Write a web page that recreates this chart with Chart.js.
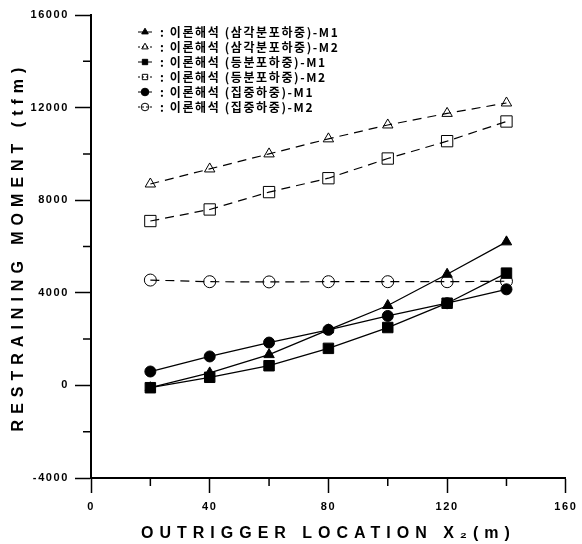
<!DOCTYPE html>
<html><head><meta charset="utf-8">
<script src="https://cdn.jsdelivr.net/npm/chart.js@4/dist/chart.umd.min.js"></script>
<style>html,body{margin:0;padding:0;background:#fff}#wrap{width:582px;height:544px;position:relative}</style>
</head><body><div id="wrap"><canvas id="c"></canvas></div>
<script>
// ---- data ----
const xLocations = [20, 40, 60, 80, 100, 120, 140];
const triangleM1 = [-100, 540, 1330, 2400, 3450, 4800, 6200];
const triangleM2 = [8700, 9350, 10000, 10650, 11250, 11750, 12200];
const uniformM1  = [-100, 350, 850, 1600, 2500, 3550, 4850];
const uniformM2  = [7100, 7600, 8350, 8950, 9800, 10550, 11400];
const pointM1    = [600, 1250, 1850, 2400, 3000, 3550, 4150];
const pointM2    = [4550, 4480, 4470, 4480, 4480, 4480, 4500];
const seriesLabels = [
  '이론해석 (삼각분포하중)-M1',
  '이론해석 (삼각분포하중)-M2',
  '이론해석 (등분포하중)-M1',
  '이론해석 (등분포하중)-M2',
  '이론해석 (집중하중)-M1',
  '이론해석 (집중하중)-M2'
];
const xTitle = 'OUTRIGGER LOCATION X\u2082(m)';
const yTitle = 'RESTRAINING MOMENT (tfm)';

const AXIS_FONT = "'Liberation Sans', Arial, Helvetica, sans-serif";
const LEGEND_FONT = "'Noto Sans CJK KR', 'Noto Sans', sans-serif";

function pts(arr) { return xLocations.map((x, i) => ({x: x, y: arr[i]})); }
function solid(label, arr, style, r) {
  return {label, data: pts(arr), borderColor: '#000', borderWidth: 1.3, pointStyle: style,
    pointRadius: r, pointBackgroundColor: '#000', pointBorderColor: '#000', pointBorderWidth: 1,
    tension: 0, fill: false, _m2: false};
}
function dashed(label, arr, style, r) {
  return {label, data: pts(arr), borderColor: '#000', borderWidth: 1.2, borderDash: [9, 6], pointStyle: style,
    pointRadius: r, pointBackgroundColor: 'rgba(0,0,0,0)', pointBorderColor: '#000', pointBorderWidth: 1,
    tension: 0, fill: false, _m2: true};
}

function spaced(fn, spacing) {
  return function () {
    const ctx = this.ctx; const prev = ctx.letterSpacing;
    ctx.letterSpacing = spacing;
    try { return fn.apply(this, arguments); } finally { ctx.letterSpacing = prev; }
  };
}
const spacingPlugin = {
  id: 'spacing',
  beforeDraw(chart) {
    for (const s of Object.values(chart.scales)) {
      if (!s.__sp) {
        s.drawLabels = spaced(s.drawLabels, '1.6px');
        s.drawTitle = spaced(s.drawTitle, '6px');
        s.__sp = true;
      }
    }
  }
};

const minorTicks = {
  id: 'minorTicks',
  afterDraw(chart) {
    const ctx = chart.ctx, y = chart.scales.y, x = chart.scales.x;
    ctx.save(); ctx.strokeStyle = '#000'; ctx.lineWidth = 1.5; ctx.beginPath();
    y.ticks.forEach(t => { if (t.value % 4000 !== 0) { const p = y.getPixelForValue(t.value); ctx.moveTo(y.right - 8, p); ctx.lineTo(y.right, p); } });
    x.ticks.forEach(t => { if (t.value % 40 !== 0) { const p = x.getPixelForValue(t.value); ctx.moveTo(p, x.top); ctx.lineTo(p, x.top + 8); } });
    ctx.stroke(); ctx.restore();
  }
};

const legendPlugin = {
  id: 'customLegend',
  afterDraw(chart) {
    const ctx = chart.ctx, a = chart.chartArea;
    const mx = a.left + 54, tx = a.left + 69, y0 = a.top + 17, step = 15;
    chart.data.datasets.forEach((ds, i) => {
      const y = y0 + i * step;
      ctx.save();
      ctx.strokeStyle = '#000'; ctx.lineWidth = 1;
      ctx.setLineDash(ds._m2 ? [2, 2] : []);
      ctx.beginPath(); ctx.moveTo(mx - 7, y); ctx.lineTo(mx + 7, y); ctx.stroke();
      ctx.setLineDash([]);
      ctx.fillStyle = ds._m2 ? 'rgba(0,0,0,0)' : '#000';
      Chart.helpers.drawPoint(ctx, {pointStyle: ds.pointStyle, radius: 3.8, rotation: 0, borderWidth: 1}, mx, y);
      ctx.fillStyle = '#000';
      ctx.font = 'bold 12px ' + LEGEND_FONT;
      ctx.letterSpacing = '1.6px';
      ctx.textBaseline = 'middle'; ctx.textAlign = 'left';
      ctx.fillText(': ' + ds.label, tx, y);
      ctx.restore();
    });
  }
};

const tickFont = {family: AXIS_FONT, size: 11, weight: 'bold'};
const titleFont = {family: AXIS_FONT, size: 16, weight: 'bold'};

new Chart(document.getElementById('c'), {
  type: 'line',
  data: {
    datasets: [
      solid(seriesLabels[0], triangleM1, 'triangle', 6),
      dashed(seriesLabels[1], triangleM2, 'triangle', 6),
      solid(seriesLabels[2], uniformM1, 'rect', 7.4),
      dashed(seriesLabels[3], uniformM2, 'rect', 8),
      solid(seriesLabels[4], pointM1, 'circle', 5.5),
      dashed(seriesLabels[5], pointM2, 'circle', 6)
    ]
  },
  options: {
    responsive: true, maintainAspectRatio: false, animation: false,
    layout: {padding: {left: 0, right: 14, top: 15, bottom: 0}},
    plugins: {legend: {display: false}, tooltip: {enabled: false}},
    scales: {
      x: {
        type: 'linear', min: 0, max: 160,
        ticks: {stepSize: 20, autoSkip: false, maxRotation: 0, padding: 7, color: '#000', font: tickFont,
          callback: v => (v % 40 === 0 ? String(v) : '')},
        grid: {drawOnChartArea: false, tickLength: 15, tickWidth: 1.5,
          tickColor: c => (c.tick && c.tick.value % 40 === 0 ? '#000' : 'rgba(0,0,0,0)')},
        border: {color: '#000', width: 2},
        title: {display: true, text: xTitle, color: '#000', font: titleFont, padding: {top: 0, bottom: 1}},
        afterFit: s => { s.height = 66; }
      },
      y: {
        type: 'linear', min: -4000, max: 16000,
        ticks: {stepSize: 2000, autoSkip: false, padding: 6, color: '#000', font: tickFont,
          callback: v => (v % 4000 === 0 ? String(v) : '')},
        grid: {drawOnChartArea: false, tickLength: 16, tickWidth: 1.5,
          tickColor: c => (c.tick && c.tick.value % 4000 === 0 ? '#000' : 'rgba(0,0,0,0)')},
        border: {color: '#000', width: 2},
        title: {display: true, text: yTitle, color: '#000', font: titleFont, padding: {top: 9, bottom: 0}},
        afterFit: s => { s.width = 91; }
      }
    }
  },
  plugins: [spacingPlugin, minorTicks, legendPlugin]
});
</script></body></html>
